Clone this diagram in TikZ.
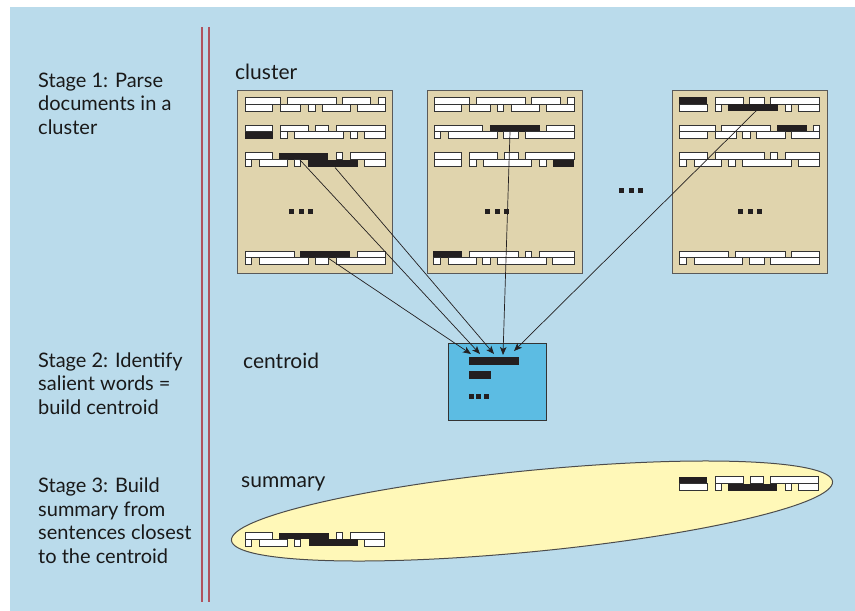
\documentclass[tikz,border=0pt]{standalone}
\usepackage{fontspec}
\setmainfont{Lato}
\usetikzlibrary{arrows.meta}
\definecolor{bgblue}{HTML}{BADBEB}
\definecolor{docfill}{HTML}{E0D4AD}
\definecolor{centfill}{HTML}{5CBCE3}
\definecolor{summfill}{HTML}{FFF8B8}
\definecolor{redline}{HTML}{B0535E}
\definecolor{ink}{HTML}{231F20}
\newcommand\WBar[3]{\draw[wbar] (#1,#3) rectangle (#2,#3+6.9);}
\newcommand\KBar[3]{\fill[kbar] (#1,#3) rectangle (#2,#3+6.9);}
\newcommand\Dots[2]{\fill[ink] (#1,#2) rectangle ++(5,5); \fill[ink] (#1+9.5,#2) rectangle ++(5,5); \fill[ink] (#1+19,#2) rectangle ++(5,5);}
\begin{document}
\begin{tikzpicture}[x=1pt,y=-1pt,
  docbox/.style={draw=black!65, line width=1.3pt, fill=docfill, anchor=north west, inner sep=0pt, minimum width=155pt, minimum height=183pt},
  centbox/.style={draw=black!80, line width=1.3pt, fill=centfill, anchor=north west, inner sep=0pt, minimum width=98.5pt, minimum height=77pt},
  wbar/.style={draw=black!80, fill=white, line width=0.9pt},
  kbar/.style={fill=ink},
  sep/.style={draw=redline, line width=1.8pt},
  lbl/.style={anchor=base west, inner sep=0pt, font=\fontsize{20}{23.5}\selectfont, text=black!90},
  tag/.style={anchor=base west, inner sep=0pt, font=\fontsize{21}{24}\selectfont, text=black!90},
  link/.style={draw=ink, line width=0.7pt, -{Stealth[length=8pt,width=6.5pt,inset=2pt]}}
]
\useasboundingbox (0,0) rectangle (855,611);
\fill[white] (0,0) rectangle (855,611);
\fill[bgblue] (10,7) rectangle (855,611);
\draw[sep] (202,27) -- (202,602);
\draw[sep] (209,27) -- (209,602);

% stage texts
\node[lbl] (s1a) at (38,87) {Stage 1: Parse};
\node[lbl] (s1b) at (38,110.5) {documents in a};
\node[lbl] (s1c) at (38,134) {cluster};
\node[lbl] (s2a) at (38,367) {Stage 2: Identify};
\node[lbl] (s2b) at (38,390.5) {salient words =};
\node[lbl] (s2c) at (38,414) {build centroid};
\node[lbl] (s3a) at (38,492.5) {Stage 3: Build};
\node[lbl] (s3b) at (38,516) {summary from};
\node[lbl] (s3c) at (38,539.5) {sentences closest};
\node[lbl] (s3d) at (38,563) {to the centroid};

\node[tag] (lcluster) at (235,79) {cluster};
\node[tag] (lcentroid) at (243,368) {centroid};
\node[tag] (lsummary) at (241,487) {summary};

% documents
\node[docbox] (doc1) at (237,90) {};
\node[docbox] (doc2) at (427,90) {};
\node[docbox] (doc3) at (672,90) {};

% doc 1
\def\ra{97.3}\def\rb{104.2}
\WBar{245}{280}{\ra}\WBar{287.3}{336}{\ra}\WBar{342.7}{370.7}{\ra}\WBar{378.3}{385}{\ra}
\WBar{245}{272.7}{\rb}\WBar{280}{300.7}{\rb}\WBar{308.3}{315.7}{\rb}\WBar{322}{350}{\rb}\WBar{357.3}{385}{\rb}
\def\ra{125}\def\rb{131.9}
\WBar{245}{272.7}{\ra}\WBar{280}{308.3}{\ra}\WBar{315.7}{328.3}{\ra}\WBar{336}{385}{\ra}
\KBar{245}{272.7}{\rb}\WBar{280}{287.3}{\rb}\WBar{294.3}{343.3}{\rb}\WBar{350}{357.3}{\rb}\WBar{364.3}{385}{\rb}
\def\ra{152.7}\def\rb{159.6}
\WBar{245}{272.7}{\ra}\KBar{279.3}{328.3}{\ra}\WBar{336}{342.7}{\ra}\WBar{350}{385}{\ra}
\WBar{245}{251.7}{\rb}\WBar{259}{287.3}{\rb}\WBar{294.3}{300.7}{\rb}\KBar{308.3}{357.7}{\rb}\WBar{364.3}{385}{\rb}
\def\ra{251}\def\rb{257.9}
\WBar{245}{294}{\ra}\KBar{300}{350}{\ra}\WBar{357.3}{385}{\ra}
\WBar{245}{251.7}{\rb}\WBar{259}{308.3}{\rb}\WBar{315.7}{328.3}{\rb}\WBar{336}{385}{\rb}
\Dots{289}{208.5}

% doc 2
\def\ra{97.3}\def\rb{104.2}
\WBar{434}{469.3}{\ra}\WBar{476.7}{525}{\ra}\WBar{531.7}{560.7}{\ra}\WBar{567.3}{574}{\ra}
\WBar{434}{461.7}{\rb}\WBar{469.3}{490.7}{\rb}\WBar{497.3}{503.3}{\rb}\WBar{511.7}{539.3}{\rb}\WBar{546}{574}{\rb}
\def\ra{125}\def\rb{131.9}
\WBar{434}{482.7}{\ra}\KBar{490}{540}{\ra}\WBar{546.7}{574}{\ra}
\WBar{434}{440.7}{\rb}\WBar{448.3}{497.3}{\rb}\WBar{503.3}{518.3}{\rb}\WBar{525}{574}{\rb}
\def\ra{152.7}\def\rb{159.6}
\WBar{434}{461.7}{\ra}\WBar{469.3}{497.3}{\ra}\WBar{504}{518.3}{\ra}\WBar{525}{574}{\ra}
\WBar{434}{461.7}{\rb}\WBar{469.3}{476}{\rb}\WBar{483.3}{531.7}{\rb}\WBar{539.3}{546}{\rb}\KBar{552.7}{574}{\rb}
\def\ra{251}\def\rb{257.9}
\KBar{433.3}{461.7}{\ra}\WBar{469.3}{518.3}{\ra}\WBar{525}{531.7}{\ra}\WBar{539.3}{574}{\ra}
\WBar{433.3}{440.7}{\rb}\WBar{448.3}{476}{\rb}\WBar{482.7}{490.7}{\rb}\WBar{497.3}{546}{\rb}\WBar{552.7}{574}{\rb}
\Dots{485}{208.5}

% doc 3
\def\ra{97.3}\def\rb{104.2}
\KBar{679.3}{707.3}{\ra}\WBar{715}{743.3}{\ra}\WBar{749.3}{764}{\ra}\WBar{770.7}{819.3}{\ra}
\WBar{679.3}{707.3}{\rb}\WBar{715}{721.7}{\rb}\KBar{728.3}{777.7}{\rb}\WBar{785}{791.7}{\rb}\WBar{798.3}{819.3}{\rb}
\def\ra{125}\def\rb{131.9}
\WBar{679.3}{715}{\ra}\WBar{721.7}{770.7}{\ra}\KBar{776.7}{806.7}{\ra}\WBar{813.3}{819.3}{\ra}
\WBar{679.3}{707.3}{\rb}\WBar{715}{736}{\rb}\WBar{742.7}{750}{\rb}\WBar{756.7}{785}{\rb}\WBar{791.7}{819.3}{\rb}
\def\ra{152.7}\def\rb{159.6}
\WBar{679.3}{707.3}{\ra}\WBar{715}{764}{\ra}\WBar{770.7}{777.7}{\ra}\WBar{785}{819.3}{\ra}
\WBar{679.3}{686}{\rb}\WBar{694}{721.7}{\rb}\WBar{728.3}{735}{\rb}\WBar{742.7}{791.7}{\rb}\WBar{798.3}{819.3}{\rb}
\def\ra{251}\def\rb{257.9}
\WBar{679.3}{728.3}{\ra}\WBar{735}{785}{\ra}\WBar{791.7}{819.3}{\ra}
\WBar{679.3}{686}{\rb}\WBar{694}{742.7}{\rb}\WBar{749.3}{764}{\rb}\WBar{770.7}{819.3}{\rb}
\Dots{738}{208.5}

% dots between documents
\Dots{619}{187.7}

% centroid
\node[centbox] (centroid) at (447.5,343) {};
\fill[ink] (469,357.3) rectangle (519.3,364.7);
\fill[ink] (469,371) rectangle (491,378.7);
\fill[ink] (469.3,394) rectangle ++(4.7,4.7);
\fill[ink] (476.3,394) rectangle ++(4.7,4.7);
\fill[ink] (484,394) rectangle ++(4.7,4.7);

% summary ellipse
\draw[draw=black!70, line width=1pt, fill=summfill, rotate around={5.6:(532,511)}] (532,511) ellipse [x radius=302pt, y radius=40.6pt];
\def\ra{476.7}\def\rb{483.6}
\KBar{679}{707.1}{\ra}\WBar{715.2}{743.3}{\ra}\WBar{750.5}{763.4}{\ra}\WBar{770.6}{818.8}{\ra}
\WBar{679}{707.1}{\rb}\WBar{715.2}{721.2}{\rb}\KBar{728}{777.4}{\rb}\WBar{785.5}{791.5}{\rb}\WBar{798.7}{818.8}{\rb}
\def\ra{532.5}\def\rb{539.4}
\WBar{245.1}{272.4}{\ra}\KBar{279.2}{328.7}{\ra}\WBar{336.7}{342.3}{\ra}\WBar{350.4}{384.9}{\ra}
\WBar{245.1}{251.1}{\rb}\WBar{259.2}{287.3}{\rb}\WBar{294.1}{300.5}{\rb}\KBar{308.6}{357.6}{\rb}\WBar{364.8}{384.9}{\rb}

% connectors
\coordinate (a1) at (300,160);
\coordinate (a2) at (335,167.5);
\coordinate (a3) at (328,258);
\coordinate (a4) at (510,132);
\coordinate (a5) at (756,111);
\coordinate (t1) at (471,354);
\coordinate (t2) at (480,354);
\coordinate (t3) at (494,354);
\coordinate (t4) at (503,355);
\coordinate (t5) at (514,351);
\draw[link] (a3) -- (t1);
\draw[link] (a1) -- (t2);
\draw[link] (a2) -- (t3);
\draw[link] (a4) -- (t4);
\draw[link] (a5) -- (t5);
\end{tikzpicture}
\end{document}
